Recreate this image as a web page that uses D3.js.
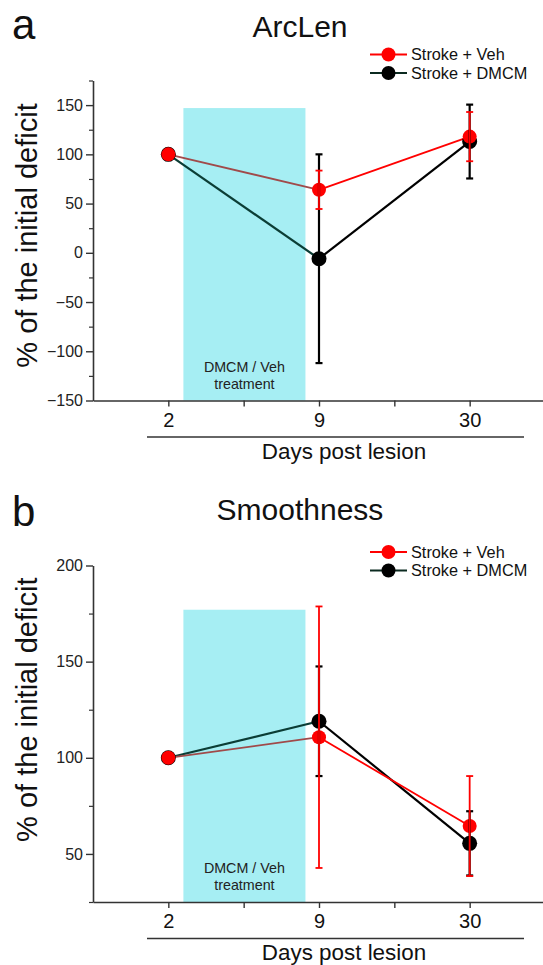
<!DOCTYPE html>
<html>
<head>
<meta charset="utf-8">
<script src="https://cdn.jsdelivr.net/npm/d3@7"></script>
<style>
  body { margin: 0; background: #fff; }
  svg { display: block; font-family: "Liberation Sans", Arial, sans-serif; }
</style>
</head>
<body>
<svg id="fig" width="543" height="965"></svg>
<script>
// ---- data ----
const days = ["2", "9", "30"];
const seriesNames = ["Stroke + Veh", "Stroke + DMCM"];

const arcVeh = [100, 64, 118];
const arcVehErr = [0, 19.5, 25];
const arcDmcm = [100, -6, 113];
const arcDmcmErr = [0, 106, 37.5];

const smoVeh = [100, 110.7, 64.5];
const smoVehErr = [0, 68, 26];
const smoDmcm = [100, 119, 55.5];
const smoDmcmErr = [0, 28.5, 16.7];

const arcTicks = [-150, -100, -50, 0, 50, 100, 150];
const smoTicks = [50, 100, 150, 200];

// treatment window (in day-index units) and its label
const treatSpan = [0.1, 0.91];
const treatLines = ["DMCM / Veh", "treatment"];

const FONT = '"Liberation Sans", Arial, sans-serif';

const svg = d3.select('#fig');

const x = d3.scaleLinear().domain([-0.5, 2.5]).range([93, 545]);

const drawPanel = (g, props) => {
  const { letter, title, top, yDomain, yRange, ticks, veh, vehErr, dmcm, dmcmErr, treatTop, legendY } = props;

  const y = d3.scaleLinear().domain(yDomain).range(yRange);
  const y0 = yRange[0];

  // panel letter and title
  g.append('text')
    .attr('x', 12).attr('y', top + props.letterY)
    .attr('font-family', FONT)
    .attr('font-size', '42px')
    .attr('fill', '#111')
    .text(letter);
  g.append('text')
    .attr('x', 300).attr('y', top + 37)
    .attr('text-anchor', 'middle')
    .attr('font-family', FONT)
    .attr('font-size', '30px')
    .attr('fill', '#111')
    .text(title);

  // treatment window
  g.append('rect')
    .attr('x', x(treatSpan[0]))
    .attr('y', y(treatTop))
    .attr('width', x(treatSpan[1]) - x(treatSpan[0]))
    .attr('height', y0 - y(treatTop))
    .attr('fill', '#a6eef3');
  const mid = (x(treatSpan[0]) + x(treatSpan[1])) / 2;
  g.selectAll('.treat')
    .data(treatLines)
    .join('text')
    .attr('x', mid)
    .attr('y', (d, i) => y0 - 29 + i * 17)
    .attr('text-anchor', 'middle')
    .attr('font-family', FONT)
    .attr('font-size', '14.3px')
    .attr('fill', '#222')
    .text(d => d);

  // y axis - major + minor ticks
  const minor = d3.range(yDomain[0], yDomain[1] + 1, 25).filter(v => !ticks.includes(v));
  const yAxis = g.append('g')
    .attr('transform', `translate(${x(-0.5)},0)`)
    .call(d3.axisLeft(y).tickValues(ticks).tickSize(7).tickPadding(3).tickSizeOuter(0));
  yAxis.select('.domain').attr('stroke', '#333').attr('stroke-width', 1.6);
  yAxis.selectAll('.tick line').attr('stroke', '#333').attr('stroke-width', 1.4);
  yAxis.selectAll('.tick text')
    .attr('font-family', FONT)
    .attr('font-size', '16px')
    .attr('fill', '#222');
  const yMinor = g.append('g')
    .attr('transform', `translate(${x(-0.5)},0)`)
    .call(d3.axisLeft(y).tickValues(minor).tickSize(4).tickFormat('').tickSizeOuter(0));
  yMinor.select('.domain').remove();
  yMinor.selectAll('.tick line').attr('stroke', '#333').attr('stroke-width', 1.2);

  // x axis
  const xAxis = g.append('g')
    .attr('transform', `translate(0,${y0})`)
    .call(d3.axisBottom(x).tickValues([0, 1, 2]).tickFormat(i => days[i]).tickSize(6).tickPadding(6).tickSizeOuter(0));
  xAxis.select('.domain').attr('stroke', '#333').attr('stroke-width', 1.6);
  xAxis.selectAll('.tick line').attr('stroke', '#333').attr('stroke-width', 1.4);
  xAxis.selectAll('.tick text')
    .attr('font-family', FONT)
    .attr('font-size', '20px')
    .attr('fill', '#111');
  const xMinor = g.append('g')
    .attr('transform', `translate(0,${y0})`)
    .call(d3.axisBottom(x).tickValues([0.5, 1.5]).tickSize(6).tickFormat('').tickSizeOuter(0));
  xMinor.select('.domain').remove();
  xMinor.selectAll('.tick line').attr('stroke', '#333').attr('stroke-width', 1.4);

  // underline + axis title
  g.append('line')
    .attr('x1', 147).attr('x2', 524)
    .attr('y1', y0 + 36.5).attr('y2', y0 + 36.5)
    .attr('stroke', '#333').attr('stroke-width', 1.4);
  g.append('text')
    .attr('x', 344).attr('y', y0 + 58)
    .attr('text-anchor', 'middle')
    .attr('font-family', FONT)
    .attr('font-size', '22.4px')
    .attr('fill', '#111')
    .text('Days post lesion');

  // y axis title
  g.append('text')
    .attr('transform', `translate(37,${(y(ticks[0]) + yRange[1]) / 2 + (props.labelShift || 0)}) rotate(-90)`)
    .attr('text-anchor', 'middle')
    .attr('font-family', FONT)
    .attr('font-size', '29px')
    .attr('fill', '#111')
    .text('% of the initial deficit');

  // lines (first segment darker, as in the source)
  const series = [
    { vals: dmcm, err: dmcmErr, color: '#000', first: '#0b3d35', r: 7.5, w: 2.2 },
    { vals: veh, err: vehErr, color: '#ff0000', first: '#a04a4a', r: 7, w: 1.8 }
  ];
  series.forEach(s => {
    s.vals.slice(1).forEach((v, i) => {
      g.append('line')
        .attr('x1', x(i)).attr('y1', y(s.vals[i]))
        .attr('x2', x(i + 1)).attr('y2', y(v))
        .attr('stroke', i === 0 ? s.first : s.color)
        .attr('stroke-width', s.w);
    });
  });
  series.forEach(s => {
    g.selectAll(null)
      .data(s.vals)
      .join('circle')
      .attr('cx', (d, i) => x(i))
      .attr('cy', d => y(d))
      .attr('r', s.r)
      .attr('fill', s.color);
  });
  series.forEach(s => {
    s.vals.forEach((v, i) => {
      if (!s.err[i]) return;
      const cx = x(i), hi = y(v + s.err[i]), lo = y(v - s.err[i]);
      g.append('line').attr('x1', cx).attr('x2', cx).attr('y1', hi).attr('y2', lo)
        .attr('stroke', s.color).attr('stroke-width', s.w);
      [hi, lo].forEach(yy => {
        g.append('line').attr('x1', cx - 3.5).attr('x2', cx + 3.5).attr('y1', yy).attr('y2', yy)
          .attr('stroke', s.color).attr('stroke-width', s.w);
      });
    });
  });

  // legend
  const leg = g.selectAll('.leg')
    .data(seriesNames)
    .join('g')
    .attr('transform', (d, i) => `translate(370,${legendY + i * 18.5})`);
  leg.append('line')
    .attr('x1', 0).attr('x2', 37)
    .attr('stroke', (d, i) => i === 0 ? '#ff0000' : '#0b2a20')
    .attr('stroke-width', 2);
  leg.append('circle')
    .attr('cx', 18.5)
    .attr('r', 7)
    .attr('fill', (d, i) => i === 0 ? '#ff0000' : '#000');
  leg.append('text')
    .attr('x', 41)
    .attr('dy', '0.36em')
    .attr('font-family', FONT)
    .attr('font-size', '16.3px')
    .attr('fill', '#111')
    .text(d => d);
};

drawPanel(svg.append('g'), {
  letter: 'a', title: 'ArcLen', top: 0, letterY: 39,
  yDomain: [-150, 175], yRange: [400.5, 80.5], ticks: arcTicks,
  veh: arcVeh, vehErr: arcVehErr, dmcm: arcDmcm, dmcmErr: arcDmcmErr,
  treatTop: 147, legendY: 54.5, labelShift: -5
});

drawPanel(svg.append('g'), {
  letter: 'b', title: 'Smoothness', top: 483, letterY: 43,
  yDomain: [25, 200], yRange: [902, 565.5], ticks: smoTicks,
  veh: smoVeh, vehErr: smoVehErr, dmcm: smoDmcm, dmcmErr: smoDmcmErr,
  treatTop: 177, legendY: 552, labelShift: 0
});
</script>
</body>
</html>
